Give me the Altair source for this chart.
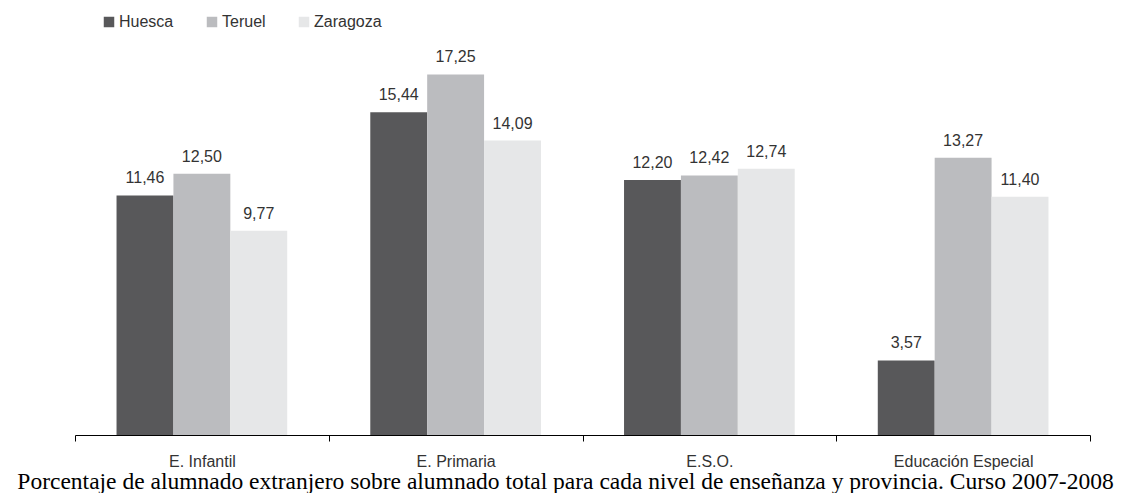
import altair as alt
import pandas as pd

niveles = ["E. Infantil", "E. Primaria", "E.S.O.", "Educación Especial"]
provincias = ["Huesca", "Teruel", "Zaragoza"]
huesca = [11.46, 15.44, 12.20, 3.57]
teruel = [12.50, 17.25, 12.42, 13.27]
zaragoza = [9.77, 14.09, 12.74, 11.40]
colores = ["#58585a", "#bbbcbf", "#e6e7e8"]
caption = ("Porcentaje de alumnado extranjero sobre alumnado total para cada nivel "
           "de enseñanza y provincia. Curso 2007-2008")

rows = []
for prov, vals in zip(provincias, [huesca, teruel, zaragoza]):
    for niv, v in zip(niveles, vals):
        rows.append({"nivel": niv, "provincia": prov, "valor": v})
df = pd.DataFrame(rows)

sans = "Liberation Sans"

x = alt.X("nivel:N", sort=niveles,
          scale=alt.Scale(paddingInner=0, paddingOuter=0),
          axis=alt.Axis(title=None, labelAngle=0, tickBand="extent", tickSize=6,
                        domainColor="black", tickColor="black", domainWidth=1,
                        labelFontSize=16, labelColor="#333", labelFont=sans,
                        labelPadding=12))
xo = alt.XOffset("provincia:N", sort=provincias,
                 scale=alt.Scale(paddingOuter=0.73, paddingInner=0))
y = alt.Y("valor:Q", scale=alt.Scale(domain=[0, 18.9]), axis=None)

base = alt.Chart(df).transform_calculate(
    etiqueta="replace(format(datum.valor, '.2f'), '.', ',')"
)

bars = base.mark_bar().encode(
    x=x, xOffset=xo, y=y,
    color=alt.Color("provincia:N", sort=provincias,
                    scale=alt.Scale(domain=provincias, range=colores),
                    legend=alt.Legend(orient="none", legendX=26, legendY=-26,
                                      direction="horizontal", title=None,
                                      symbolType="square", symbolSize=110,
                                      symbolStrokeWidth=0, labelFontSize=16,
                                      labelFont=sans, labelColor="#333",
                                      columnPadding=30, labelOffset=2)),
)

labels = base.mark_text(baseline="alphabetic", dy=-12, fontSize=16,
                        font=sans, color="#333").encode(
    x=x, xOffset=xo, y=y, text="etiqueta:N"
)

chart = alt.layer(bars, labels).properties(
    width=1015, height=395,
    autosize=alt.AutoSizeParams(type="none"),
    padding={"left": 67, "top": 32, "right": 32, "bottom": 58},
    title=alt.TitleParams(caption, orient="bottom", anchor="middle",
                          font="Liberation Serif", fontSize=23.5,
                          fontWeight="normal", color="black", offset=1, dx=-17),
).configure_view(stroke=None)

chart.save("out.html", embed_options={"renderer": "svg", "actions": False})
